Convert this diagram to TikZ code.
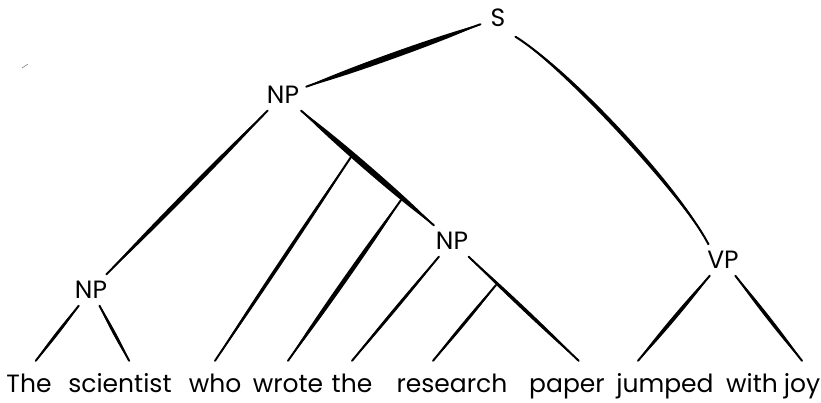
\documentclass[tikz,border=0pt]{standalone}
\usepackage{fontspec}
\setmainfont{Poppins}
\usetikzlibrary{calc}
\tikzset{
  twig bow/.store in=\twigbow, twig bow=0pt,
  twig girth/.store in=\twiggirth, twig girth=2pt,
  twig line/.style={line width=2pt,line cap=round},
  cat/.style={font=\fontsize{25}{28}\selectfont,text height=17pt,text depth=0pt,inner sep=7pt},
  word/.style={font=\fontsize{25}{28}\selectfont,anchor=base,text height=18pt,text depth=6pt,inner xsep=2pt,inner ysep=13pt},
}
% a hand-drawn branch between two nodes
\newcommand\twig[3][]{%
  \begin{scope}[#1]
  \path (#2) -- (#3) coordinate[pos=0] (tw-a) coordinate[pos=1] (tw-b);
  \fill (tw-a) .. controls ($(tw-a)!0.2!(tw-b)!\twigbow+\twiggirth!90:(tw-b)$)
    and ($(tw-a)!0.8!(tw-b)!\twigbow+\twiggirth!90:(tw-b)$) .. (tw-b)
    .. controls ($(tw-a)!0.8!(tw-b)!\twigbow-\twiggirth!90:(tw-b)$)
    and ($(tw-a)!0.2!(tw-b)!\twigbow-\twiggirth!90:(tw-b)$) .. (tw-a) -- cycle;
  \draw[twig line] (tw-a) .. controls ($(tw-a)!0.2!(tw-b)!\twigbow!90:(tw-b)$)
    and ($(tw-a)!0.8!(tw-b)!\twigbow!90:(tw-b)$) .. (tw-b);
  \end{scope}}

\begin{document}
\begin{tikzpicture}[x=1pt,y=-1pt]
\useasboundingbox (0,0) rectangle (821,402);
% categories
\node[cat,inner sep=10pt] (s) at (498,18) {S};
\node[cat] (np1) at (283,95) {NP};
\node[cat] (np2) at (91,290) {NP};
\node[cat] (np3) at (452,241) {NP};
\node[cat] (vp) at (723,260) {VP};
% the sentence
\node[word] (w1) at (29,392) {The};
\node[word] (w2) at (120,392) {scientist};
\node[word] (w3) at (215,392) {who};
\node[word] (w4) at (288,392) {wrote};
\node[word] (w5) at (352,392) {the};
\node[word] (w6) at (452,392) {research};
\node[word] (w7) at (567,392) {paper};
\node[word] (w8) at (665,392) {jumped};
\node[word] (w9) at (752,392) {with};
\node[word] (w10) at (802,392) {joy};
% where the words hang off an edge
\coordinate (b1) at (351,157);
\coordinate (b2) at (401,200);
\coordinate (b3) at (496,285);
% edges
\twig[twig girth=4pt]{s}{np1}
\twig[twig bow=16pt,twig girth=2.6pt]{s}{vp}
\twig[twig girth=3pt]{np1}{np2}
\twig[twig girth=4pt]{np1}{np3}
\twig{np2}{w1.75}
\twig{np2}{w2.70}
\twig[twig girth=2.4pt]{b1}{w3.north}
\twig[twig girth=3pt]{b2}{w4.north}
\twig{np3}{w5.north}
\twig{b3}{w6.127}
\twig[twig girth=2.4pt]{np3}{w7.65}
\twig[twig girth=2.6pt]{vp}{w8.137}
\twig[twig girth=2.4pt]{vp}{w10.north}
% stray pen mark
\draw[line width=0.6pt,gray] (22,68) -- (28,64);
\end{tikzpicture}
\end{document}
